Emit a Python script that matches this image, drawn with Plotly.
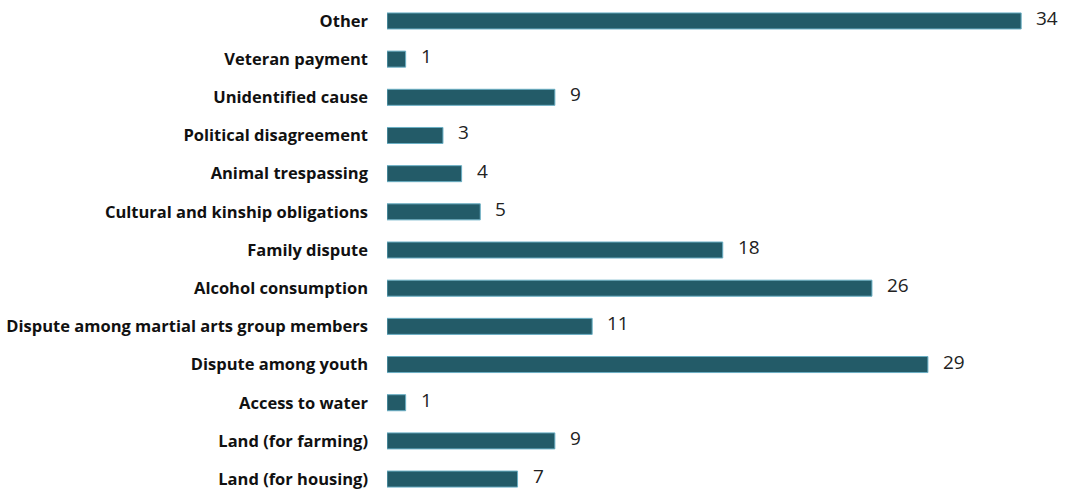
import plotly.graph_objects as go

categories = ["Land (for housing)", "Land (for farming)", "Access to water", "Dispute among youth",
              "Dispute among martial arts group members", "Alcohol consumption", "Family dispute",
              "Cultural and kinship obligations", "Animal trespassing", "Political disagreement",
              "Unidentified cause", "Veteran payment", "Other"]
values = [7, 9, 1, 29, 11, 26, 18, 5, 4, 3, 9, 1, 34]

fig = go.Figure()
fig.add_trace(go.Bar(
    y=categories, x=values, orientation="h",
    marker=dict(color="#235B68", line=dict(color="#6AAFC4", width=1)),
    width=0.42, hoverinfo="skip",
))
for c, v in zip(categories, values):
    fig.add_annotation(x=v, y=c, text=str(v), showarrow=False, xanchor="left",
                       xshift=13, yshift=3, font=dict(family="Open Sans", size=19, color="#222222"))

fig.update_layout(
    width=1065, height=489, margin=dict(l=387, r=0, t=0, b=0),
    plot_bgcolor="white", paper_bgcolor="white", showlegend=False,
    xaxis=dict(range=[0, 36.35], visible=False, showgrid=False, zeroline=False),
    yaxis=dict(type="category", categoryorder="array", categoryarray=categories,
               range=[-0.26, 12.549], showgrid=False, zeroline=False, showline=False,
               ticks="", ticklabelstandoff=18,
               tickfont=dict(family="Open Sans", size=16.5, color="#111111", weight="bold")),
)
fig.write_html("out.html")
